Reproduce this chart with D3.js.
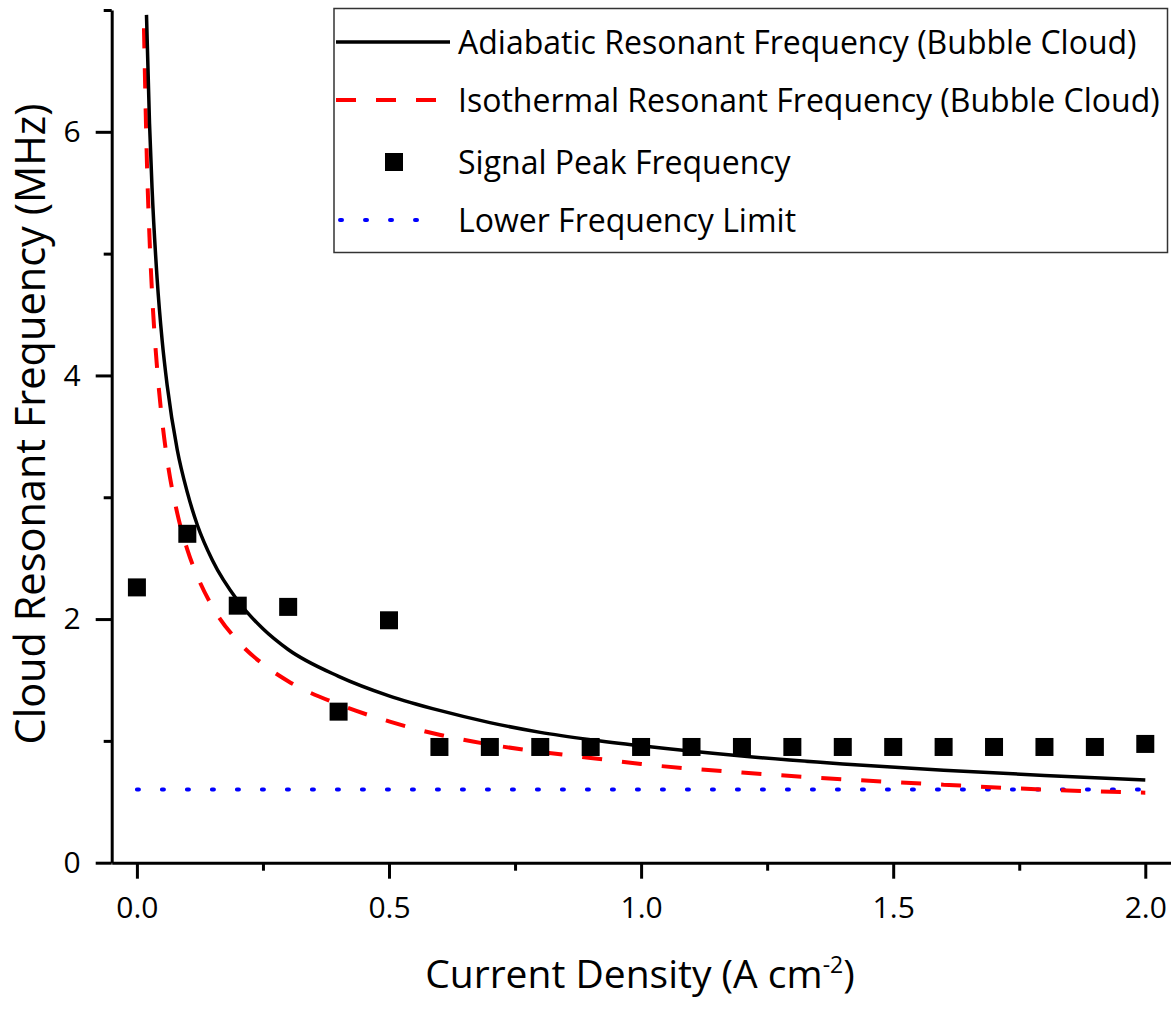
<!DOCTYPE html>
<html>
<head>
<meta charset="utf-8">
<script src="https://cdn.jsdelivr.net/npm/d3@7"></script>
<style>
  body { margin: 0; background: #fff; }
  text { font-family: "Open Sans", Lato, sans-serif; fill: #000; }
</style>
</head>
<body>
<script>
// values
var adiabaticX = [0.019, 0.025, 0.03, 0.04, 0.05, 0.06, 0.08, 0.1, 0.12, 0.15, 0.2, 0.25, 0.3, 0.4, 0.5, 0.6, 0.7, 0.8, 0.9, 1.0, 1.2, 1.4, 1.6, 1.8, 2.0];
var adiabaticY = [6.96, 6.07, 5.54, 4.80, 4.29, 3.92, 3.39, 3.04, 2.77, 2.48, 2.15, 1.92, 1.75, 1.53, 1.37, 1.25, 1.15, 1.07, 1.01, 0.96, 0.876, 0.811, 0.759, 0.716, 0.679];

var isothermalX = [0.014, 0.02, 0.025, 0.03, 0.04, 0.05, 0.06, 0.08, 0.1, 0.12, 0.15, 0.2, 0.25, 0.3, 0.4, 0.5, 0.6, 0.7, 0.8, 0.9, 1.0, 1.2, 1.4, 1.6, 1.8, 2.0];
var isothermalY = [6.85, 5.73, 5.13, 4.68, 4.06, 3.63, 3.31, 2.87, 2.57, 2.35, 2.10, 1.82, 1.63, 1.49, 1.30, 1.16, 1.05, 0.97, 0.91, 0.86, 0.81, 0.74, 0.685, 0.64, 0.60, 0.575];

var peakX = [0, 0.1, 0.2, 0.3, 0.4, 0.5, 0.6, 0.7, 0.8, 0.9, 1.0, 1.1, 1.2, 1.3, 1.4, 1.5, 1.6, 1.7, 1.8, 1.9, 2.0];
var peakY = [2.26, 2.70, 2.11, 2.10, 1.24, 1.99, 0.95, 0.95, 0.95, 0.95, 0.95, 0.95, 0.95, 0.95, 0.95, 0.95, 0.95, 0.95, 0.95, 0.95, 0.975];

var limitX = [0, 2.0];
var limitY = [0.6, 0.6];

var xMajor = [0, 0.5, 1.0, 1.5, 2.0],
    xMinor = [0.25, 0.75, 1.25, 1.75],
    yMajor = [0, 2, 4, 6],
    yMinor = [1, 3, 5, 7];

var legendLabels = [
  "Adiabatic Resonant Frequency (Bubble Cloud)",
  "Isothermal Resonant Frequency (Bubble Cloud)",
  "Signal Peak Frequency",
  "Lower Frequency Limit"
];

var width = 1175, height = 1010;

var x = d3.scaleLinear().domain([-0.05, 2.05]).range([111.7, 1170.5]);
var y = d3.scaleLinear().domain([0, 7]).range([862.7, 10]);

var svg = d3.select("body").append("svg")
    .attr("width", width)
    .attr("height", height);

svg.append("rect").attr("width", width).attr("height", height).attr("fill", "#fff");

function zip(xs, ys) {
  return xs.map(function(d, i) { return [d, ys[i]]; });
}

var line = d3.line()
    .x(function(d) { return x(d[0]); })
    .y(function(d) { return y(d[1]); })
    .curve(d3.curveMonotoneX);

// axes
var gx = svg.append("g").attr("transform", "translate(0," + y(0) + ")");
gx.call(d3.axisBottom(x).tickValues(xMajor).tickSizeInner(16).tickSizeOuter(0).tickPadding(18)
    .tickFormat(d3.format(".1f")));
gx.append("g").call(d3.axisBottom(x).tickValues(xMinor).tickSize(8).tickFormat(""))
    .select(".domain").remove();

var gy = svg.append("g").attr("transform", "translate(" + x(-0.05) + ",0)");
gy.call(d3.axisLeft(y).tickValues(yMajor).tickSizeInner(16).tickSizeOuter(0).tickPadding(15)
    .tickFormat(d3.format("d")));
gy.append("g").call(d3.axisLeft(y).tickValues(yMinor).tickSize(8).tickFormat(""))
    .select(".domain").remove();

svg.selectAll(".domain, .tick line")
    .attr("stroke", "#000")
    .attr("stroke-width", 3);
svg.selectAll(".tick text")
    .style("font-size", "30px")
    .style("font-family", "'Open Sans', sans-serif");

// curves
svg.append("path")
    .datum(zip(limitX, limitY))
    .attr("d", line)
    .attr("fill", "none")
    .attr("stroke", "#0000ff")
    .attr("stroke-width", 4)
    .attr("stroke-linecap", "round")
    .attr("stroke-dasharray", "2,23");

svg.append("path")
    .datum(zip(isothermalX, isothermalY))
    .attr("d", line)
    .attr("fill", "none")
    .attr("stroke", "#ff0000")
    .attr("stroke-width", 4)
    .attr("stroke-dasharray", "20,20");

svg.append("path")
    .datum(zip(adiabaticX, adiabaticY))
    .attr("d", line)
    .attr("fill", "none")
    .attr("stroke", "#000")
    .attr("stroke-width", 3.5);

var sq = 18;
svg.append("g").selectAll("rect")
    .data(zip(peakX, peakY))
    .enter().append("rect")
    .attr("x", function(d) { return x(d[0]) - sq / 2; })
    .attr("y", function(d) { return y(d[1]) - sq / 2; })
    .attr("width", sq)
    .attr("height", sq)
    .attr("fill", "#000");

// axis titles
var xt = svg.append("text")
    .attr("x", 640)
    .attr("y", 988)
    .attr("text-anchor", "middle")
    .style("font-size", "39px");
xt.append("tspan").text("Current Density (A cm");
xt.append("tspan").attr("dy", -15).style("font-size", "23px").text("-2");
xt.append("tspan").attr("dy", 15).text(")");

svg.append("text")
    .attr("transform", "translate(45,424) rotate(-90)")
    .attr("text-anchor", "middle")
    .style("font-size", "41.5px")
    .text("Cloud Resonant Frequency (MHz)");

// legend
var legend = svg.append("g");
legend.append("rect")
    .attr("x", 334).attr("y", 8.5)
    .attr("width", 833.5).attr("height", 244)
    .attr("fill", "#fff")
    .attr("stroke", "#333")
    .attr("stroke-width", 1.5);

var rowY = [42, 100, 162, 220];
var sampleX0 = 336, sampleX1 = 450;

legend.append("line")
    .attr("x1", sampleX0).attr("x2", sampleX1).attr("y1", rowY[0]).attr("y2", rowY[0])
    .attr("stroke", "#000").attr("stroke-width", 3.5);
legend.append("line")
    .attr("x1", sampleX0).attr("x2", sampleX1).attr("y1", rowY[1]).attr("y2", rowY[1])
    .attr("stroke", "#ff0000").attr("stroke-width", 4).attr("stroke-dasharray", "20,20");
legend.append("rect")
    .attr("x", 394 - sq / 2).attr("y", rowY[2] - sq / 2)
    .attr("width", sq).attr("height", sq).attr("fill", "#000");
legend.append("line")
    .attr("x1", sampleX0 + 4).attr("x2", sampleX1 - 10).attr("y1", rowY[3]).attr("y2", rowY[3])
    .attr("stroke", "#0000ff").attr("stroke-width", 4)
    .attr("stroke-linecap", "round").attr("stroke-dasharray", "2,23");

legend.selectAll("text.lab")
    .data(legendLabels)
    .enter().append("text")
    .attr("class", "lab")
    .attr("x", 458)
    .attr("y", function(d, i) { return rowY[i] + 12; })
    .style("font-size", "32px")
    .text(function(d) { return d; });
</script>
</body>
</html>
